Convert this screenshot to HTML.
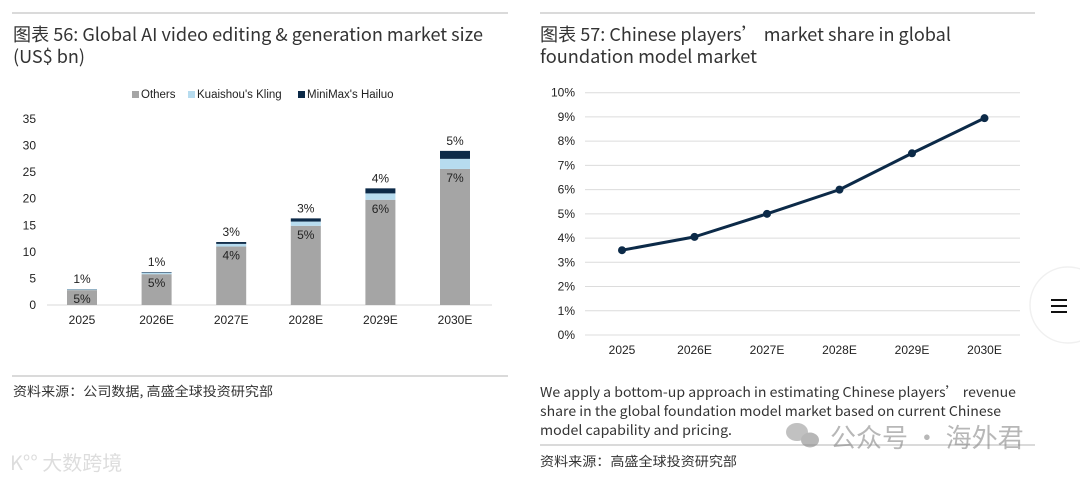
<!DOCTYPE html>
<html><head><meta charset="utf-8"><style>
html,body{margin:0;padding:0;background:#fff;}
svg{display:block;font-family:"Liberation Sans","Noto Sans CJK SC",sans-serif;}
.cjk{font-family:"Noto Sans CJK SC","Liberation Sans",sans-serif;}
</style></head><body>
<svg id="s" width="1080" height="480" viewBox="0 0 1080 480">
<line x1="12" y1="13" x2="508" y2="13" stroke="#b5b5b5"/>
<line x1="540" y1="13" x2="1035" y2="13" stroke="#b5b5b5"/>
<g class="cjk" fill="#333" font-size="18">
<text x="13" y="41" textLength="470" lengthAdjust="spacingAndGlyphs">图表 56: Global AI video editing &amp; generation market size</text>
<text x="13" y="63" textLength="72" lengthAdjust="spacingAndGlyphs">(US$ bn)</text>
<text x="540" y="41" textLength="411" lengthAdjust="spacingAndGlyphs">图表 57: Chinese players’  market share in global</text>
<text x="540" y="63" textLength="217" lengthAdjust="spacingAndGlyphs">foundation model market</text>
</g>
<g font-size="11.5" fill="#222">
<rect x="132" y="91" width="7" height="7" fill="#a5a5a5"/>
<text x="141" y="98">Others</text>
<rect x="188" y="91" width="7" height="7" fill="#b7dcef"/>
<text x="197" y="98">Kuaishou's Kling</text>
<rect x="298" y="91" width="7" height="7" fill="#0c2a48"/>
<text x="307" y="98">MiniMax's Hailuo</text>
</g>
<g id="bars"></g>
<g id="line"></g>
<line x1="12" y1="376" x2="508" y2="376" stroke="#b5b5b5"/>
<text class="cjk" x="13" y="396" font-size="13" fill="#333" textLength="260" lengthAdjust="spacingAndGlyphs">资料来源：公司数据, 高盛全球投资研究部</text>
<g class="cjk" font-size="13.5" fill="#333">
<text x="540" y="397" textLength="476" lengthAdjust="spacingAndGlyphs">We apply a bottom-up approach in estimating Chinese players’  revenue</text>
<text x="540" y="416" textLength="461" lengthAdjust="spacingAndGlyphs">share in the global foundation model market based on current Chinese</text>
<text x="540" y="435" textLength="192" lengthAdjust="spacingAndGlyphs">model capability and pricing.</text>
</g>
<line x1="540" y1="445" x2="1035" y2="445" stroke="#b5b5b5"/>
<text class="cjk" x="540" y="466" font-size="13" fill="#333" textLength="197" lengthAdjust="spacingAndGlyphs">资料来源：高盛全球投资研究部</text>
<g opacity="0.6">
<ellipse cx="797" cy="432" rx="11" ry="9" fill="#999"/><ellipse cx="810" cy="440" rx="9" ry="7.5" fill="#888"/>
<text class="cjk" x="830" y="447" font-size="26" fill="#888">公众号 · 海外君</text>
</g>
<text class="cjk" x="10" y="470" font-size="20" fill="#ddd">K°° 大数跨境</text>
<g>
<circle cx="1068" cy="305" r="38" fill="#fff" stroke="#f0f0f0" stroke-width="1.5"/>
<rect x="1051" y="299" width="16" height="2" fill="#111"/><rect x="1051" y="305" width="16" height="2" fill="#111"/><rect x="1051" y="311" width="16" height="2" fill="#111"/>
</g>
</svg>
<script>
const barCats=["2025","2026E","2027E","2028E","2029E","2030E"];
const others=[2.8,5.8,11.0,14.9,19.8,25.6];
const kling=[0.15,0.3,0.5,0.8,1.2,1.9];
const hailuo=[0.05,0.1,0.35,0.6,0.95,1.5];
const klingLabels=["5%","5%","4%","5%","6%","7%"];
const hailuoLabels=["1%","1%","3%","3%","4%","5%"];
const barTicks=[0,5,10,15,20,25,30,35];
const lineCats=["2025","2026E","2027E","2028E","2029E","2030E"];
const shares=[3.5,4.05,5.0,6.0,7.5,8.95];
const lineTicks=[0,1,2,3,4,5,6,7,8,9,10];

const NS="http://www.w3.org/2000/svg";
function mk(p,t,a){const e=document.createElementNS(NS,t);for(const k in a)e.setAttribute(k,a[k]);p.appendChild(e);return e;}
const bg=document.getElementById('bars');
const by=v=>305-v*(186/35);
const bx=i=>82+i*74.6;
barTicks.forEach(t=>{const e=mk(bg,'text',{x:36,y:by(t)+4,'font-size':12,'text-anchor':'end',fill:'#222'});e.textContent=t;

});
const ax=mk(bg,'line',{x1:47,y1:305,x2:492,y2:305,stroke:'#d9d9d9'});


barCats.forEach((c,i)=>{
 const x=bx(i)-15,w=30;
 const segs=[[0,others[i],'#a5a5a5','bar-others'],[others[i],others[i]+kling[i],'#b7dcef','bar-kling'],[others[i]+kling[i],others[i]+kling[i]+hailuo[i],'#0c2a48','bar-hailuo']];
 segs.forEach(s=>{const r=mk(bg,'rect',{x:x,y:by(s[1]),width:w,height:by(s[0])-by(s[1]),fill:s[2]});
 
 });
 const tot=others[i]+kling[i]+hailuo[i];
 const t1=mk(bg,'text',{x:bx(i),y:by(tot)-6,'font-size':12,'text-anchor':'middle',fill:'#222'});t1.textContent=hailuoLabels[i];
 
 
 const t2=mk(bg,'text',{x:bx(i),y:by(others[i])+13,'font-size':12,'text-anchor':'middle',fill:'#222'});t2.textContent=klingLabels[i];
 
 
 const xl=mk(bg,'text',{x:bx(i),y:324,'font-size':12,'text-anchor':'middle',fill:'#222'});xl.textContent=c;
 
 
});
const lg=document.getElementById('line');
const ly=v=>335-v*24.23;
const lx=i=>622+i*72.5;
lineTicks.forEach(t=>{
 const g=mk(lg,'line',{x1:585,y1:ly(t),x2:1020,y2:ly(t),stroke:'#dcdcdc'});
 
 
 const e=mk(lg,'text',{x:575,y:ly(t)+4,'font-size':12,'text-anchor':'end',fill:'#222'});e.textContent=t+'%';
 
 
});
lineCats.forEach((c,i)=>{const e=mk(lg,'text',{x:lx(i),y:354,'font-size':12,'text-anchor':'middle',fill:'#222'});e.textContent=c;
 
 });
const pl=mk(lg,'polyline',{points:shares.map((v,i)=>lx(i)+','+ly(v)).join(' '),fill:'none',stroke:'#0c2a48','stroke-width':3,'stroke-linejoin':'round'});


shares.forEach((v,i)=>{const p=mk(lg,'circle',{cx:lx(i),cy:ly(v),r:4,fill:'#0c2a48'});
 
 });
</script>
</body></html>
